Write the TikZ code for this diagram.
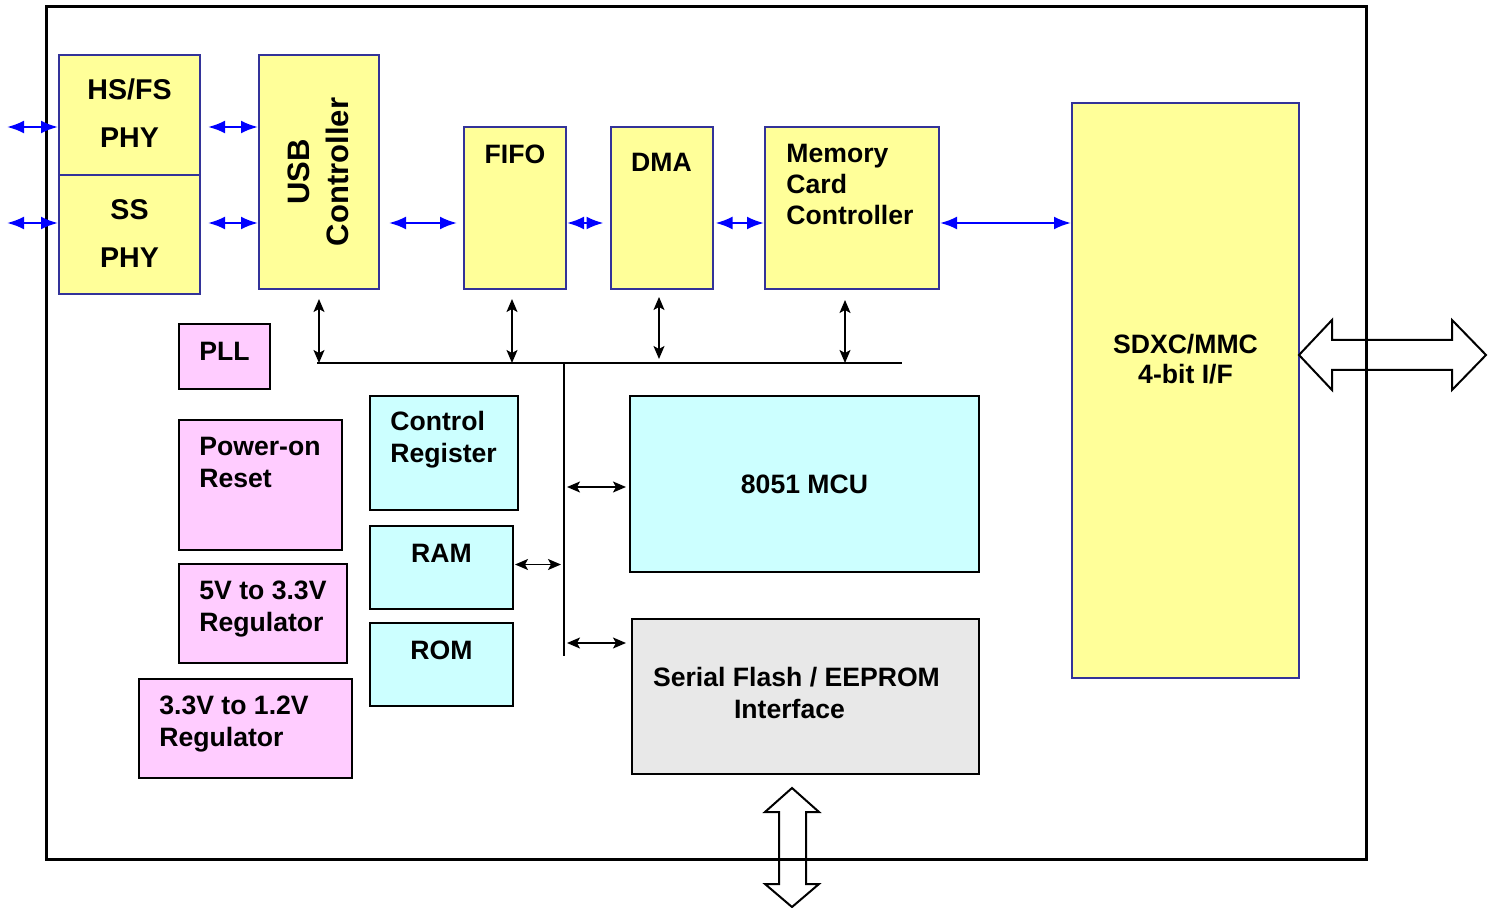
\documentclass[tikz,border=0pt]{standalone}
\usepackage{fontspec}
\setmainfont{Liberation Sans}
\usetikzlibrary{arrows.meta,calc}

\definecolor{boxyellow}{HTML}{FFFF99}
\definecolor{boxblue}{HTML}{333399}
\definecolor{boxpink}{HTML}{FFCCFF}
\definecolor{boxcyan}{HTML}{CCFFFF}
\definecolor{boxgray}{HTML}{E8E8E8}

\begin{document}
\begin{tikzpicture}[x=0.5pt, y=-0.5pt,
  ybox/.style={draw=boxblue, fill=boxyellow, line width=1pt, inner sep=0pt},
  pbox/.style={draw=black, fill=boxpink, line width=1pt, inner sep=0pt},
  cbox/.style={draw=black, fill=boxcyan, line width=1pt, inner sep=0pt},
  gbox/.style={draw=black, fill=boxgray, line width=1pt, inner sep=0pt},
  lbl/.style={inner sep=0pt, font=\fontsize{13.3}{16}\selectfont\bfseries},
  biglbl/.style={inner sep=0pt, align=center, font=\fontsize{14.3}{24}\selectfont\bfseries},
  usbarrow/.style={blue, line width=1.2pt, {Latex[length=8.5pt,width=6.5pt]}-{Latex[length=8.5pt,width=6.5pt]}},
  busarrow/.style={black, line width=0.8pt, {Stealth[length=6.5pt,width=5.5pt,inset=1.5pt]}-{Stealth[length=6.5pt,width=5.5pt,inset=1.5pt]}},
  fatarrow/.style={draw=black, line width=1pt, line join=miter}]
\useasboundingbox (0,0) rectangle (1488,908);

% Chip outline
\draw[line width=1.5pt] (46,7) rectangle (1366,859);

% USB side
\node[ybox, minimum width=70.5pt, minimum height=60pt] (hsfs) at (129.5,115) {};
\node[biglbl] (hsfstxt) at ($(hsfs.center)+(0,-2)$) {HS/FS\\PHY};
\node[ybox, minimum width=70.5pt, minimum height=59.5pt] (ss) at (129.5,234.5) {};
\node[biglbl] (sstxt) at ($(ss.center)+(0,-1)$) {SS\\PHY};
\node[ybox, minimum width=60pt, minimum height=117pt] (usb) at (319,172) {};
\node[inner sep=0pt, rotate=90, align=center, font=\fontsize{15.5}{19.5}\selectfont\bfseries] (usbtxt) at ($(usb.center)+(-1,0)$) {USB\\Controller};

% Data path
\node[ybox, minimum width=51pt, minimum height=81pt] (fifo) at (515,208) {};
\node[lbl] (fifotxt) at ($(fifo.north)+(0,28)$) {FIFO};
\node[ybox, minimum width=51pt, minimum height=81pt] (dma) at (661.5,208) {};
\node[lbl] (dmatxt) at ($(dma.north)+(0,36)$) {DMA};
\node[ybox, minimum width=87pt, minimum height=81pt] (mem) at (852,208) {};
\node[lbl, anchor=west, align=left, font=\fontsize{13.3}{15.5}\selectfont\bfseries] (memtxt) at ($(mem.north west)+(22,58)$) {Memory\\Card\\Controller};
\node[ybox, minimum width=113.5pt, minimum height=287.5pt] (sdxc) at (1185.5,390.5) {};
\node[lbl, align=center, font=\fontsize{13.3}{15}\selectfont\bfseries] (sdxctxt) at ($(sdxc.center)+(0,-31)$) {SDXC/MMC\\4-bit I/F};

% Clock and power
\node[pbox, minimum width=45.5pt, minimum height=32.5pt] (pll) at (224.5,356.5) {};
\node[lbl] (plltxt) at ($(pll.center)+(0,-5)$) {PLL};
\node[pbox, minimum width=81.5pt, minimum height=65pt] (por) at (260.5,485) {};
\node[lbl, anchor=west, align=left] (portxt) at ($(por.north west)+(21,43)$) {Power-on\\Reset};
\node[pbox, minimum width=84pt, minimum height=49.5pt] (regA) at (263,613.5) {};
\node[lbl, anchor=west, align=left] (regAtxt) at ($(regA.north west)+(21,46)$) {5V to 3.3V\\Regulator};
\node[pbox, minimum width=106.5pt, minimum height=49.5pt] (regB) at (245.5,728.5) {};
\node[lbl, anchor=west, align=left] (regBtxt) at ($(regB.north west)+(21,46)$) {3.3V to 1.2V\\Regulator};

% MCU side
\node[cbox, minimum width=74pt, minimum height=57pt] (ctrl) at (444,453) {};
\node[lbl, anchor=west, align=left] (ctrltxt) at ($(ctrl.north west)+(21,45)$) {Control\\Register};
\node[cbox, minimum width=71.5pt, minimum height=41.5pt] (ram) at (441.5,567.5) {};
\node[lbl] (ramtxt) at ($(ram.north)+(0,28)$) {RAM};
\node[cbox, minimum width=71.5pt, minimum height=41.5pt] (rom) at (441.5,664.5) {};
\node[lbl] (romtxt) at ($(rom.north)+(0,28)$) {ROM};
\node[cbox, minimum width=174.5pt, minimum height=88pt] (mcu) at (804.5,484) {};
\node[lbl] (mcutxt) at (mcu.center) {8051 MCU};
\node[gbox, minimum width=173.5pt, minimum height=77.5pt] (flash) at (805.5,696.5) {};
\node[lbl, align=center] (flashtxt) at ($(flash.center)+(-9,-4)$) {Serial Flash / EEPROM\\Interface\hspace*{7pt}};

% USB data arrows
\coordinate (row1) at (0,127);
\coordinate (row2) at (0,223);
\coordinate (extA) at (7,127);
\coordinate (extB) at (7,223);
\draw[usbarrow] (extA) -- (hsfs.west |- row1);
\draw[usbarrow] (extB) -- (ss.west |- row2);
\draw[usbarrow, shorten <=3.5pt] (hsfs.east |- row1) -- (usb.west |- row1);
\draw[usbarrow, shorten <=3.5pt] (ss.east |- row2) -- (usb.west |- row2);
\draw[usbarrow, shorten <=4.5pt, shorten >=3pt] (usb.east |- row2) -- (fifo.west |- row2);
\draw[usbarrow, shorten >=3pt] (fifo.east |- row2) -- (dma.west |- row2);
\draw[usbarrow, shorten <=1pt] (dma.east |- row2) -- (mem.west |- row2);
\draw[usbarrow] (mem.east |- row2) -- (sdxc.west |- row2);

% Internal bus
\coordinate (busL) at (317,363);
\coordinate (busR) at (902,363);
\coordinate (busT) at (564,363);
\coordinate (busB) at (564,656);
\draw[line width=0.8pt] (busL) -- (busR);
\draw[line width=0.8pt] (busT) -- (busB);
\draw[busarrow, shorten <=4.5pt] (usb.south) -- (usb.south |- busL);
\draw[busarrow, shorten <=4.5pt] ([xshift=-1.5pt]fifo.south) -- ([xshift=-1.5pt]fifo.south |- busL);
\draw[busarrow, shorten <=3.5pt, shorten >=2pt] ([xshift=-1.25pt]dma.south) -- ([xshift=-1.25pt]dma.south |- busL);
\draw[busarrow, shorten <=5pt] ([xshift=-3.5pt]mem.south) -- ([xshift=-3.5pt]mem.south |- busL);
\draw[busarrow, shorten <=1.5pt, shorten >=1.5pt] (busT |- {$(mcu.west)+(0,3)$}) -- ($(mcu.west)+(0,3)$);
\draw[busarrow, shorten <=0.5pt, shorten >=1.5pt] ($(ram.east)+(0,-3)$) -- (busT |- {$(ram.east)+(0,-3)$});
\draw[busarrow, shorten <=1.5pt, shorten >=2.5pt] (busT |- {$(flash.north west)+(0,25)$}) -- ($(flash.north west)+(0,25)$);

% External interfaces
\draw[fatarrow] (1299,355) -- (1332,320) -- (1332,340) -- (1452,340) -- (1452,320) -- (1486,355)
  -- (1452,390) -- (1452,370) -- (1332,370) -- (1332,390) -- cycle;
\draw[fatarrow] (792,788) -- (819,812) -- (806,812) -- (806,884) -- (819,884) -- (792,907)
  -- (765,884) -- (779,884) -- (779,812) -- (765,812) -- cycle;
\end{tikzpicture}
\end{document}
